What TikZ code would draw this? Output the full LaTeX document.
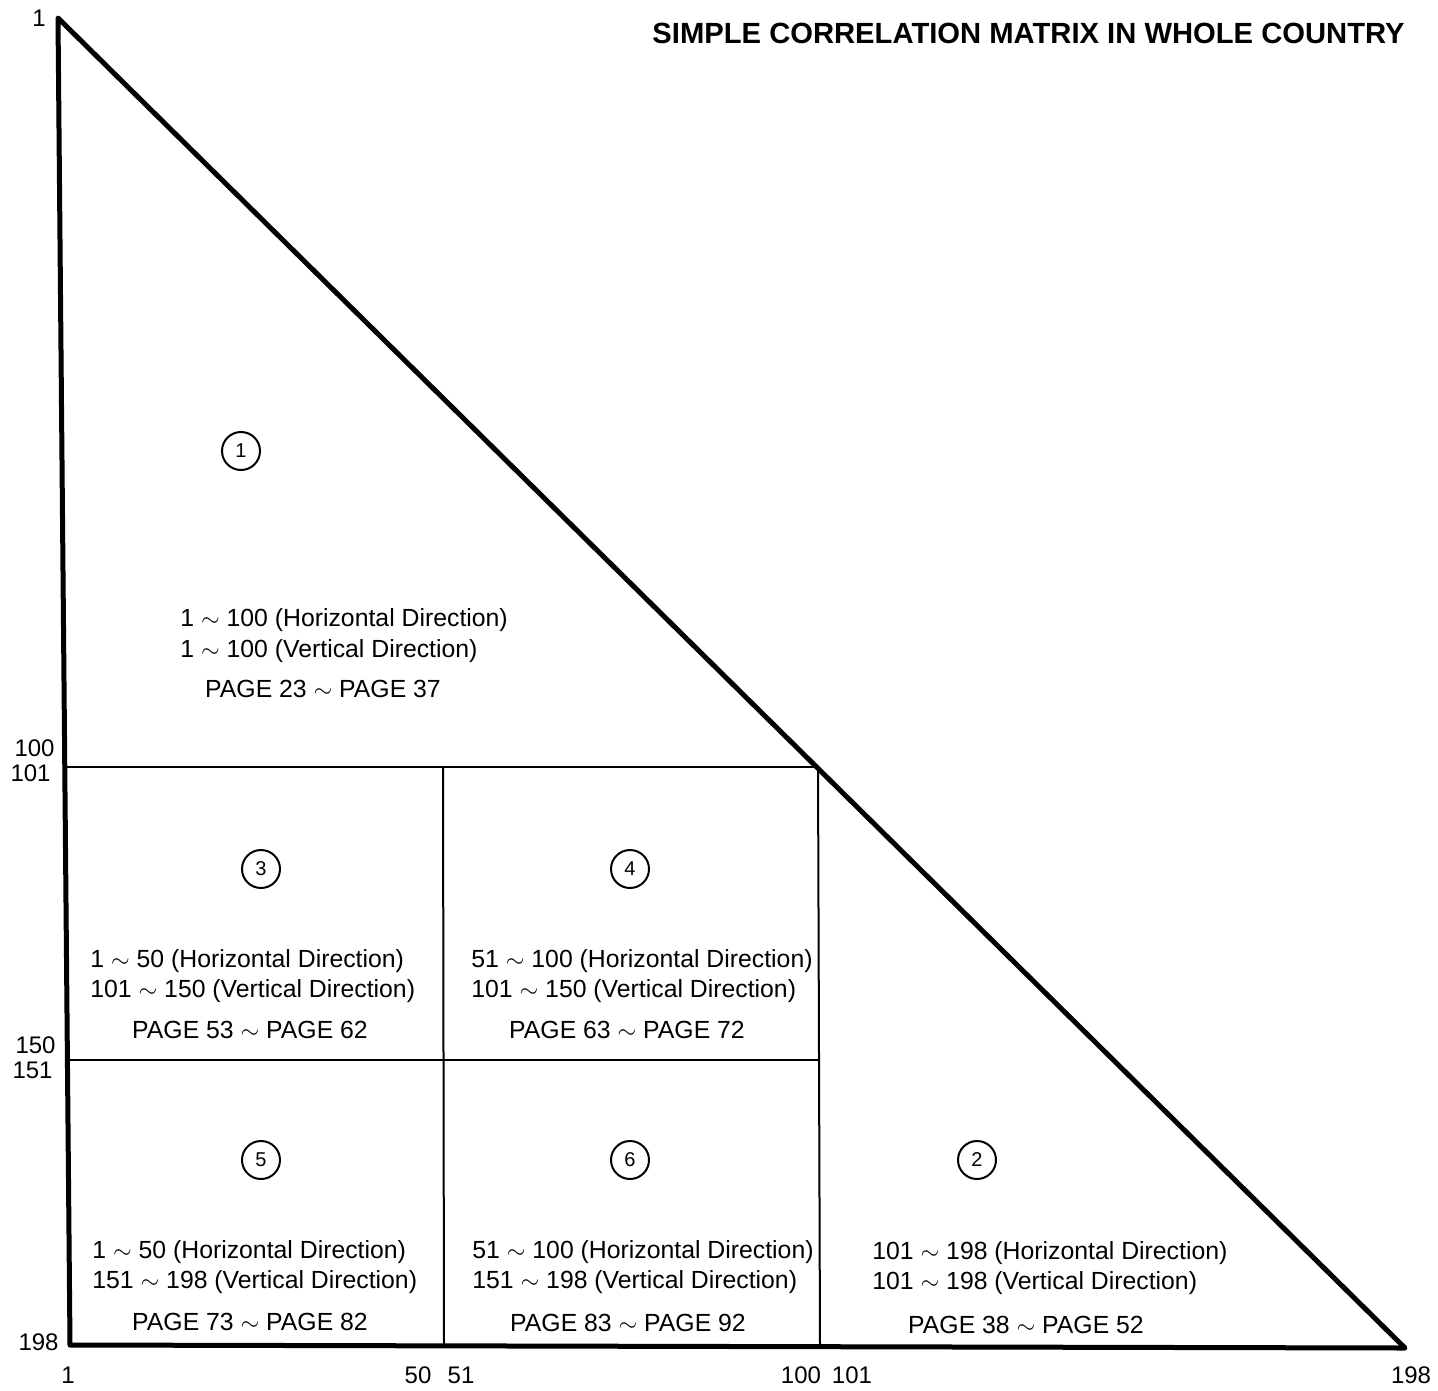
\documentclass[tikz,border=0pt]{standalone}
\usepackage{fontspec}
\setmainfont{Liberation Sans}
\begin{document}
\begin{tikzpicture}[x=0.5pt, y=-0.5pt,
  every node/.style={inner sep=0pt, font=\fontsize{12.4}{14}\selectfont},
  rng/.style={anchor=west},
  pg/.style={anchor=center},
  tick/.style={font=\fontsize{12}{14}\selectfont},
  area/.style={draw, circle, line width=1pt, minimum size=19pt, font=\fontsize{10}{12}\selectfont},
  edge/.style={line width=2.5pt, line join=round},
  cut/.style={line width=1pt}]

\useasboundingbox (0,0) rectangle (1438,1390);

% corners of the matrix
\coordinate (top) at (58,18);
\coordinate (bl) at (70,1345);
\coordinate (br) at (1405,1348);
\coordinate (mid) at (818,767);
\coordinate (l100) at (64,767);
\coordinate (l150) at (67,1060);
\coordinate (m150) at (819,1060);
\coordinate (c50t) at (443,767);
\coordinate (c50b) at (444,1346);
\coordinate (c100b) at (820,1347);

\draw[edge] (top) -- (bl) -- (br) -- cycle;
\draw[cut] (l100) -- (mid);
\draw[cut] (l150) -- (m150);
\draw[cut] (c50t) -- (c50b);
\draw[cut] (mid) -- (c100b);

\node[anchor=east, font=\bfseries\fontsize{14.6}{17}\selectfont] (title) at (1405,33) {SIMPLE CORRELATION MATRIX IN WHOLE COUNTRY};

% row / column numbers
\node[tick, anchor=east] (r1) at (46,18) {1};
\node[tick, anchor=east] (r100) at (55,748) {100};
\node[tick, anchor=east] (r101) at (51,773) {101};
\node[tick, anchor=east] (r150) at (56,1045) {150};
\node[tick, anchor=east] (r151) at (53,1070) {151};
\node[tick, anchor=east] (r198) at (59,1342) {198};
\node[tick] (k1) at (68,1375) {1};
\node[tick] (k50) at (418,1375) {50};
\node[tick] (k51) at (461,1375) {51};
\node[tick] (k100) at (801,1375) {100};
\node[tick] (k101) at (852,1375) {101};
\node[tick] (k198) at (1411,1375) {198};

% block 1
\node[area] (b1) at (241,451) {1};
\node[rng] (b1h) at (180,620) {1 $\sim$ 100 (Horizontal Direction)};
\node[rng] (b1v) at (180,651) {1 $\sim$ 100 (Vertical Direction)};
\node[pg] (b1p) at (323,689) {PAGE 23 $\sim$ PAGE 37};

% block 3
\node[area] (b3) at (261,869) {3};
\node[rng] (b3h) at (90,961) {1 $\sim$ 50 (Horizontal Direction)};
\node[rng] (b3v) at (90,991) {101 $\sim$ 150 (Vertical Direction)};
\node[pg] (b3p) at (250,1030) {PAGE 53 $\sim$ PAGE 62};

% block 4
\node[area] (b4) at (630,869) {4};
\node[rng] (b4h) at (471,961) {51 $\sim$ 100 (Horizontal Direction)};
\node[rng] (b4v) at (471,991) {101 $\sim$ 150 (Vertical Direction)};
\node[pg] (b4p) at (627,1030) {PAGE 63 $\sim$ PAGE 72};

% block 5
\node[area] (b5) at (261,1160) {5};
\node[rng] (b5h) at (92,1252) {1 $\sim$ 50 (Horizontal Direction)};
\node[rng] (b5v) at (92,1282) {151 $\sim$ 198 (Vertical Direction)};
\node[pg] (b5p) at (250,1322) {PAGE 73 $\sim$ PAGE 82};

% block 6
\node[area] (b6) at (630,1160) {6};
\node[rng] (b6h) at (472,1252) {51 $\sim$ 100 (Horizontal Direction)};
\node[rng] (b6v) at (472,1282) {151 $\sim$ 198 (Vertical Direction)};
\node[pg] (b6p) at (628,1323) {PAGE 83 $\sim$ PAGE 92};

% block 2
\node[area] (b2) at (977,1160) {2};
\node[rng] (b2h) at (872,1253) {101 $\sim$ 198 (Horizontal Direction)};
\node[rng] (b2v) at (872,1283) {101 $\sim$ 198 (Vertical Direction)};
\node[pg] (b2p) at (1026,1325) {PAGE 38 $\sim$ PAGE 52};

\end{tikzpicture}
\end{document}
